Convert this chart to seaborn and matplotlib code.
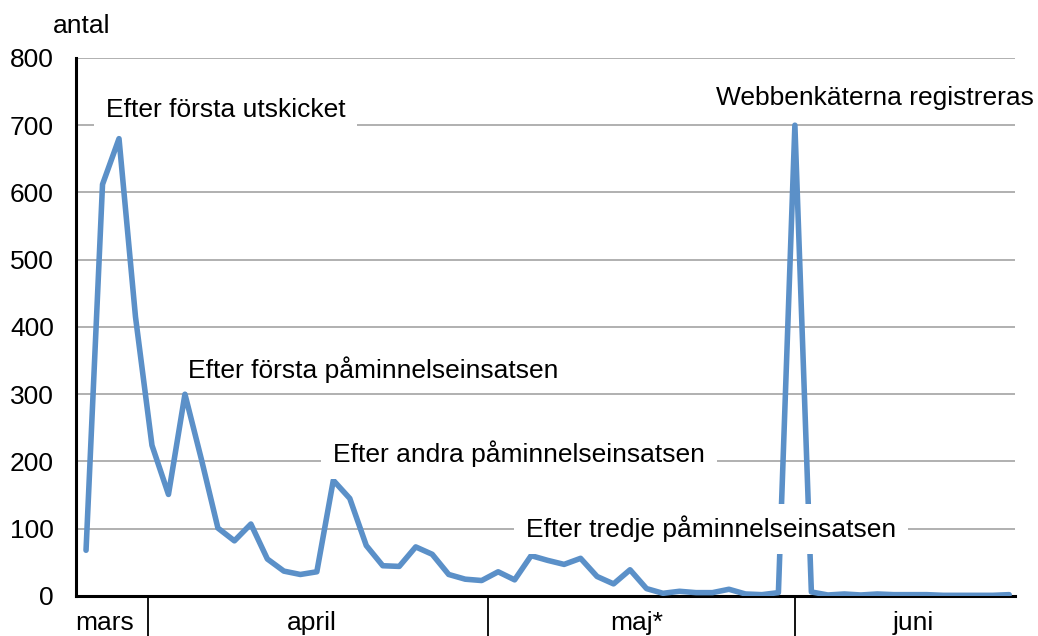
import numpy as np
import pandas as pd
import matplotlib.pyplot as plt
import seaborn as sns

# style
sns.set_theme(style="white")
plt.rcParams['font.family'] = ['Liberation Sans', 'DejaVu Sans']
plt.rcParams['text.color'] = 'black'

# data: inkomna svar per (arbets)dag
antal = [68, 612, 680, 415, 224, 151, 300, 203, 101, 82,
         107, 55, 37, 32, 36, 172, 145, 75, 45, 44,
         73, 62, 32, 25, 23, 36, 24, 60, 53, 47,
         56, 29, 18, 39, 11, 4, 7, 5, 5, 10,
         3, 2, 5, 700, 6, 1.5, 3, 1.5, 3, 2,
         2, 2, 1, 1, 1, 1, 2]
dag = list(range(len(antal)))

manader = ['mars', 'april', 'maj*', 'juni']
manad_pos = [1.1, 13.7, 33.4, 50.2]
manad_grans = [3.77, 24.4, 43.0]
y_ticks = [0, 100, 200, 300, 400, 500, 600, 700, 800]

df = pd.DataFrame({'dag': dag, 'antal': antal})

fig = plt.figure(figsize=(10.38, 6.36), dpi=100)
ax = fig.add_axes([0.0732, 0.0629, 0.9046, 0.846])

sns.lineplot(x='dag', y='antal', data=df, ax=ax, color='#5b90c8', lw=4, zorder=3)

ax.set_xlim(-0.61, 56.35)
ax.set_ylim(0, 800)
ax.set_yticks(y_ticks)
ax.yaxis.grid(True, color='#a3a3a3', lw=1.2)
ax.xaxis.grid(False)
ax.set_axisbelow(True)

for s in ['top', 'right']:
    ax.spines[s].set_visible(False)
for s in ['left', 'bottom']:
    ax.spines[s].set_color('black')
    ax.spines[s].set_linewidth(2.2)

# month labels and separators
ax.set_xticks(manad_pos)
ax.set_xticklabels(manader)
ax.set_xticks(manad_grans, minor=True)
ax.tick_params(axis='x', which='major', length=0, pad=11, labelsize=19, colors='black')
ax.tick_params(axis='x', which='minor', bottom=True, length=30, width=1.3,
               color='black', direction='out')
ax.tick_params(axis='y', length=0, pad=16, labelsize=19, colors='black')
ax.set_xlabel('')
ax.set_ylabel('')

fig.text(53 / 1038, 1 - 26 / 636, 'antal', fontsize=19, ha='left', va='center', color='black')

# annotations
def note(x, y, s, pad=0.45):
    ax.text(x, y, s, fontsize=19, ha='left', va='center', zorder=5, color='black',
            bbox=dict(facecolor='white', edgecolor='none', boxstyle='square,pad=%s' % pad))

note(1.2, 722, 'Efter första utskicket')
note(6.2, 336, 'Efter första påminnelseinsatsen', pad=0.25)
note(15.0, 212, 'Efter andra påminnelseinsatsen')
note(26.7, 100, 'Efter tredje påminnelseinsatsen')
note(38.2, 740, 'Webbenkäterna registreras', pad=0.3)

fig.savefig('out.png', dpi=100)
